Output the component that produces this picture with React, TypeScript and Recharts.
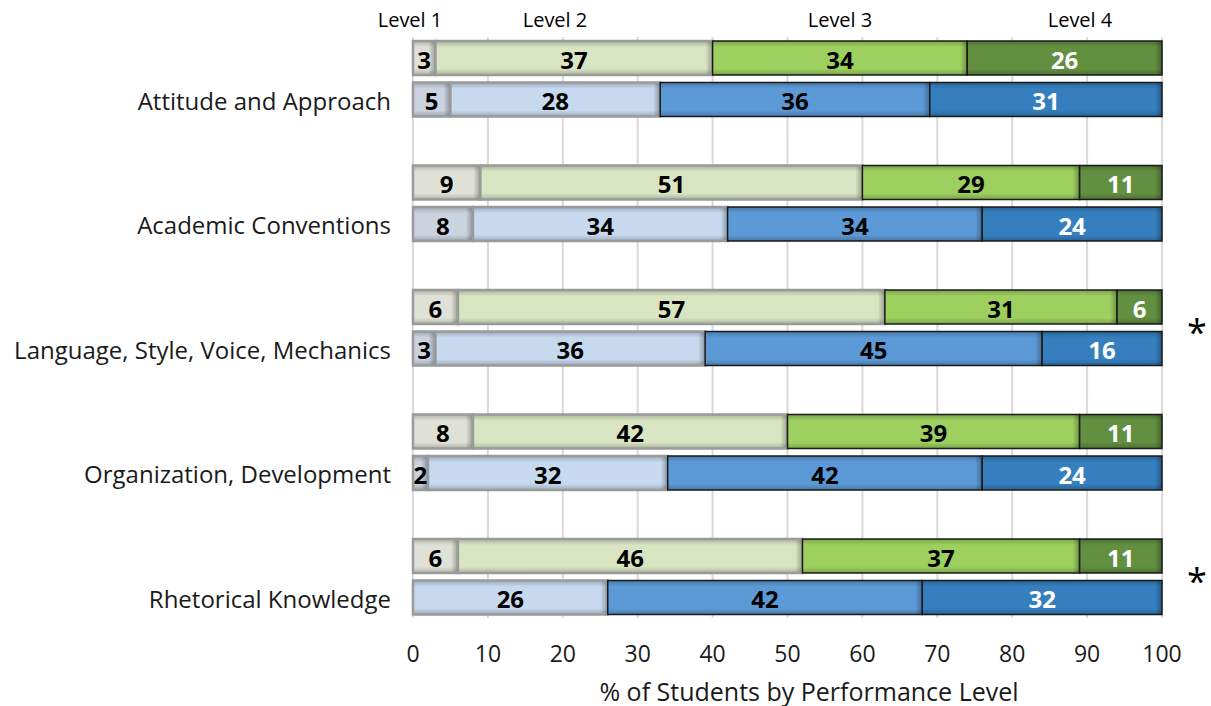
import React from "react";
import { BarChart, Bar, XAxis, YAxis, CartesianGrid, LabelList } from "recharts";

const categories = [
  "Attitude and Approach",
  "Academic Conventions",
  "Language, Style, Voice, Mechanics",
  "Organization, Development",
  "Rhetorical Knowledge",
];

// top (green) bar of each pair
const greenLevel1 = [3, 9, 6, 8, 6];
const greenLevel2 = [37, 51, 57, 42, 46];
const greenLevel3 = [34, 29, 31, 39, 37];
const greenLevel4 = [26, 11, 6, 11, 11];

// bottom (blue) bar of each pair
const blueLevel1 = [5, 8, 3, 2, 0];
const blueLevel2 = [28, 34, 36, 32, 26];
const blueLevel3 = [36, 34, 45, 42, 42];
const blueLevel4 = [31, 24, 16, 24, 32];

const levelNames = ["Level 1", "Level 2", "Level 3", "Level 4"];
const starred = ["Language, Style, Voice, Mechanics", "Rhetorical Knowledge"];
const xTicks = [0, 10, 20, 30, 40, 50, 60, 70, 80, 90, 100];

const FONT = "'Open Sans', 'Noto Sans', sans-serif";

const fills = {
  g: ["#e0e1d6", "#d9e4c3", "#9dd05e", "#628f40"],
  b: ["#cbd3df", "#c6d9ee", "#5c9ad7", "#357fbf"],
};

type Row = {
  row: string;
  kind: "g" | "b" | "gap";
  label?: string;
  l1?: number;
  l2?: number;
  l3?: number;
  l4?: number;
};

// one row per bar, with an empty row between category pairs
const rows: Row[] = [];
categories.forEach((cat, i) => {
  rows.push({ row: cat + "|g", kind: "g", l1: greenLevel1[i], l2: greenLevel2[i], l3: greenLevel3[i], l4: greenLevel4[i] });
  rows.push({ row: cat + "|b", kind: "b", label: cat, l1: blueLevel1[i], l2: blueLevel2[i], l3: blueLevel3[i], l4: blueLevel4[i] });
  if (i < categories.length - 1) rows.push({ row: cat + "|gap", kind: "gap" });
});
const rowByKey: Record<string, Row> = {};
rows.forEach((r) => (rowByKey[r.row] = r));

const makeShape = (level: number) => (props: any) => {
  const { x, y, width, height, payload } = props;
  if (!width || width <= 0 || !payload || payload.kind === "gap") return <g />;
  const fill = fills[payload.kind as "g" | "b"][level];
  const light = level < 2;
  const edge = Math.min(7, width);
  return (
    <g>
      <rect x={x} y={y} width={width} height={height} fill={fill} />
      <rect x={x} y={y} width={width} height={height} fill="url(#vshade)" />
      <rect x={x + width - edge} y={y} width={edge} height={height} fill="url(#hshade)" />
      <rect
        x={x}
        y={y}
        width={width}
        height={height}
        fill="none"
        stroke={light ? "#9a9a9a" : "#1a1a1a"}
        strokeWidth={light ? 2.5 : 1.5}
      />
    </g>
  );
};

const makeLabel = (level: number) => (props: any) => {
  const { x, y, width, height, value } = props;
  if (!value) return null;
  return (
    <text
      x={x + width / 2}
      y={y + height / 2 + 1}
      textAnchor="middle"
      dominantBaseline="central"
      fontFamily={FONT}
      fontWeight={700}
      fontSize={24}
      fill={level === 3 ? "#ffffff" : "#000000"}
    >
      {value}
    </text>
  );
};

const CategoryTick = (props: any) => {
  const { x, y, payload } = props;
  const r = rowByKey[payload.value];
  if (!r || r.kind !== "b") return <g />;
  return (
    <text x={x} y={y + 1} textAnchor="end" dominantBaseline="central" fontFamily={FONT} fontSize={24} fill="#1a1a1a">
      {r.label}
    </text>
  );
};

const levelX = [410, 555, 840, 1080];

const App = () => {
  const keys = ["l1", "l2", "l3", "l4"];
  const starRows = starred.map((c) => categories.indexOf(c));
  return (
    <div style={{ position: "absolute", left: 0, top: 0, width: 1211, height: 706, fontFamily: FONT, background: "#fff" }}>
      <BarChart
        width={1211}
        height={706}
        data={rows}
        layout="vertical"
        margin={{ top: 37, right: 49, left: 0, bottom: 28 }}
        barSize={34}
      >
        <defs>
          <linearGradient id="vshade" x1="0" y1="0" x2="0" y2="1">
            <stop offset="0" stopColor="#000" stopOpacity={0.22} />
            <stop offset="0.18" stopColor="#000" stopOpacity={0} />
            <stop offset="0.82" stopColor="#000" stopOpacity={0} />
            <stop offset="1" stopColor="#000" stopOpacity={0.22} />
          </linearGradient>
          <linearGradient id="hshade" x1="0" y1="0" x2="1" y2="0">
            <stop offset="0" stopColor="#000" stopOpacity={0} />
            <stop offset="1" stopColor="#000" stopOpacity={0.3} />
          </linearGradient>
        </defs>
        <CartesianGrid horizontal={false} stroke="#d9d9d9" strokeWidth={2} />
        <XAxis
          type="number"
          domain={[0, 100]}
          ticks={xTicks}
          interval={0}
          height={60}
          axisLine={false}
          tickLine={false}
          tickSize={0}
          tickMargin={28}
          tick={{ fontFamily: FONT, fontSize: 23, fill: "#1a1a1a" }}
        />
        <YAxis
          type="category"
          dataKey="row"
          width={413}
          interval={0}
          axisLine={false}
          tickLine={false}
          tickSize={0}
          tickMargin={22}
          tick={<CategoryTick />}
        />
        {keys.map((k, i) => (
          <Bar key={k} dataKey={k} stackId="s" isAnimationActive={false} shape={makeShape(i)}>
            <LabelList dataKey={k} content={makeLabel(i)} />
          </Bar>
        ))}
      </BarChart>
      {levelNames.map((name, i) => (
        <div
          key={name}
          style={{ position: "absolute", left: levelX[i], top: 6, transform: "translateX(-50%)", fontSize: 20, lineHeight: "28px", color: "#000", whiteSpace: "nowrap" }}
        >
          {name}
        </div>
      ))}
      {starRows.map((ri) => (
        <div
          key={ri}
          style={{ position: "absolute", left: 1187, top: 37 + ri * 124.5 + 40 - 12, fontSize: 36, lineHeight: "36px", color: "#000" }}
        >
          *
        </div>
      ))}
      <div
        style={{ position: "absolute", left: 809, top: 676, transform: "translateX(-50%)", fontSize: 25, lineHeight: "30px", color: "#1a1a1a", whiteSpace: "nowrap" }}
      >
        % of Students by Performance Level
      </div>
    </div>
  );
};

export default App;
